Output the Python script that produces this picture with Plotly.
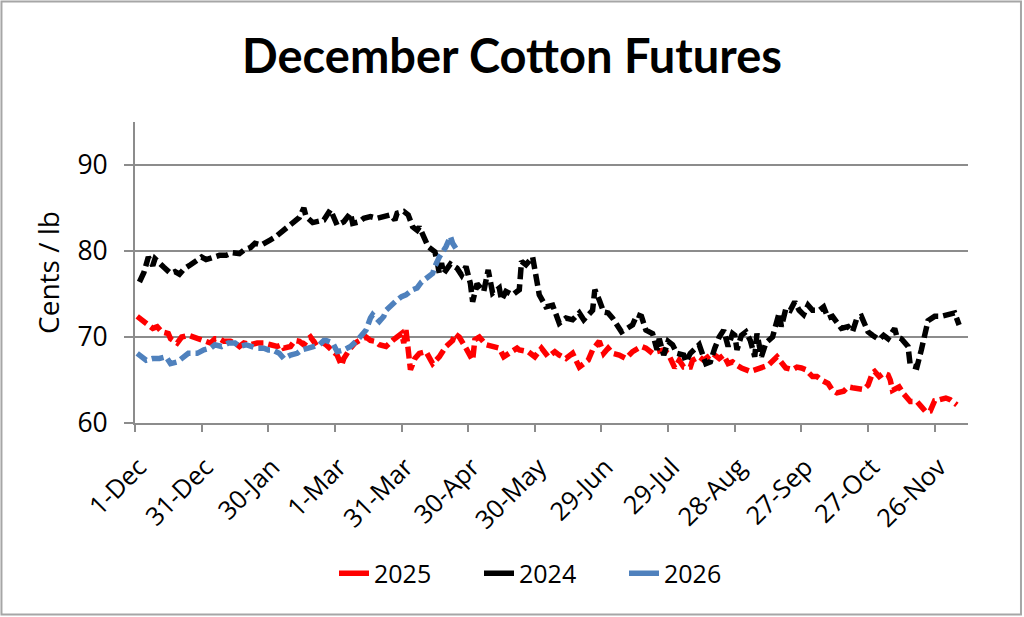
import plotly.graph_objects as go

# ---- data (days since 1-Dec, cents/lb) ----
TICK_DAYS = [0, 30, 60, 90, 120, 150, 180, 210, 240, 270, 300, 330, 360]
TICK_LABELS = ["1-Dec", "31-Dec", "30-Jan", "1-Mar", "31-Mar", "30-Apr", "30-May",
               "29-Jun", "29-Jul", "28-Aug", "27-Sep", "27-Oct", "26-Nov"]

DAYS_2025 = [1, 3, 5, 6, 8, 10, 12, 15, 16, 19, 21, 24, 26, 29, 31, 34, 36, 38, 40, 43,
             45, 47, 49, 52, 55, 58, 61, 64, 66, 67, 70, 72, 74, 76, 78, 79, 81, 83, 86, 89,
             91, 93, 94, 97, 99, 101, 104, 106, 108, 110, 113, 116, 118, 120, 121, 122, 124, 126, 128, 131,
             134, 137, 140, 143, 144, 146, 149, 152, 153, 155, 158, 161, 164, 166, 169, 172, 173, 177, 180, 183,
             186, 189, 191, 194, 197, 200, 204, 206, 209, 211, 213, 215, 218, 221, 224, 228, 230, 233, 235, 238,
             240, 243, 245, 247, 250, 251, 254, 256, 258, 260, 263, 265, 267, 269, 271, 273, 277, 279, 282, 285,
             289, 291, 293, 296, 298, 300, 302, 305, 307, 309, 312, 314, 316, 319, 321, 323, 326, 328, 330, 332,
             333, 335, 337, 339, 340, 341, 344, 346, 349, 352, 354, 356, 358, 360, 362, 365, 367, 370]
VALS_2025 = [72.4, 72.0, 71.6, 71.4, 71.0, 71.2, 70.6, 70.4, 69.8, 69.3, 70.0, 70.2, 70.0, 69.8, 69.6, 69.3, 69.8, 69.8, 69.5, 69.5,
             69.3, 68.9, 69.3, 69.1, 69.3, 69.3, 69.1, 68.9, 69.1, 68.7, 68.9, 69.6, 69.5, 69.1, 69.8, 70.0, 69.3, 69.6, 69.1, 68.5,
             67.9, 66.7, 67.5, 68.7, 69.3, 69.6, 70.0, 69.6, 69.5, 69.1, 68.9, 69.6, 70.0, 70.4, 69.3, 70.8, 66.2, 67.5, 68.1, 68.3,
             66.9, 67.7, 68.9, 69.6, 70.4, 70.0, 68.7, 67.3, 69.7, 70.0, 69.1, 68.9, 68.7, 67.7, 68.3, 68.7, 68.5, 68.3, 67.7, 68.7,
             67.7, 68.3, 67.9, 67.5, 68.1, 66.5, 67.3, 68.5, 69.5, 68.1, 68.7, 68.1, 67.9, 67.5, 68.3, 68.9, 68.7, 68.1, 68.3, 68.5,
             68.1, 66.4, 67.3, 66.5, 66.5, 67.3, 67.7, 67.3, 67.7, 68.1, 67.5, 67.9, 66.9, 67.1, 66.7, 66.4, 66.0, 66.2, 66.5, 66.7,
             67.7, 67.1, 66.4, 66.2, 66.5, 66.4, 66.2, 65.4, 65.4, 65.0, 64.6, 63.8, 63.5, 63.7, 64.2, 64.1, 64.0, 63.9, 64.4, 65.8,
             66.0, 65.4, 65.8, 65.6, 65.0, 63.8, 64.2, 63.4, 62.5, 62.5, 61.9, 61.3, 61.4, 62.6, 62.7, 62.9, 62.7, 62.1]

DAYS_2024 = [2, 4, 6, 7, 8, 9, 11, 13, 16, 18, 20, 22, 25, 28, 30, 32, 35, 38, 41, 44,
             47, 49, 52, 54, 57, 59, 61, 63, 65, 68, 71, 73, 74, 76, 77, 80, 82, 85, 88, 90,
             91, 94, 97, 98, 101, 103, 106, 109, 112, 115, 117, 118, 121, 123, 125, 127, 128, 130, 132, 134,
             135, 136, 137, 138, 139, 142, 145, 147, 149, 151, 152, 154, 157, 159, 161, 164, 165, 167, 170, 173,
             174, 176, 179, 182, 185, 188, 191, 194, 197, 200, 202, 206, 207, 209, 211, 213, 215, 219, 221, 224,
             226, 228, 230, 233, 235, 236, 238, 240, 242, 244, 247, 248, 250, 252, 254, 257, 259, 261, 263, 265,
             267, 269, 270, 271, 273, 275, 277, 279, 280, 282, 284, 287, 290, 291, 293, 295, 297, 299, 301, 303,
             305, 308, 310, 312, 314, 318, 321, 323, 325, 327, 330, 332, 335, 337, 339, 342, 343, 345, 348, 349,
             352, 354, 356, 357, 360, 363, 366, 369, 371]
VALS_2024 = [76.4, 77.5, 79.3, 78.9, 78.3, 79.1, 78.7, 78.1, 77.4, 77.6, 77.3, 77.9, 78.4, 79.0, 79.3, 79.0, 79.3, 79.5, 79.5, 79.8,
             79.7, 80.1, 80.4, 80.9, 80.7, 81.1, 81.3, 81.6, 82.0, 82.6, 83.2, 83.6, 83.9, 85.0, 84.0, 83.3, 83.4, 83.6, 84.8, 83.8,
             83.0, 83.4, 84.4, 83.2, 83.4, 83.8, 84.0, 83.8, 84.0, 84.2, 83.6, 84.4, 84.6, 84.2, 82.8, 82.4, 82.8, 81.6, 80.5, 80.1,
             79.9, 78.8, 77.4, 78.6, 77.4, 78.5, 78.0, 77.2, 78.2, 76.2, 74.1, 76.2, 75.3, 77.8, 75.1, 75.7, 74.3, 75.3, 74.9, 75.5,
             78.8, 78.4, 79.3, 74.9, 73.5, 73.7, 71.6, 72.2, 72.0, 72.8, 72.0, 73.1, 75.5, 74.3, 72.9, 72.8, 72.2, 70.6, 71.0, 71.4,
             72.6, 72.4, 70.8, 70.4, 68.5, 69.8, 67.9, 69.5, 69.1, 68.1, 67.9, 67.1, 68.1, 68.5, 69.1, 66.9, 67.1, 68.7, 70.0, 70.8,
             68.9, 70.4, 70.2, 68.5, 70.2, 70.6, 69.6, 67.7, 70.4, 67.7, 69.3, 70.0, 72.8, 71.2, 73.3, 73.1, 74.1, 73.1, 72.6, 73.7,
             73.1, 73.1, 73.5, 72.2, 72.4, 71.0, 71.2, 70.6, 72.2, 72.4, 70.6, 70.2, 69.7, 70.2, 69.8, 71.0, 70.0, 69.8, 68.9, 66.7,
             66.5, 68.5, 70.8, 71.9, 72.4, 72.4, 72.6, 72.8, 71.4]

DAYS_2026 = [1, 3, 5, 8, 11, 14, 16, 19, 22, 24, 28, 31, 34, 36, 39, 42, 45, 47, 50, 53,
             55, 58, 60, 62, 65, 67, 70, 73, 75, 78, 80, 83, 85, 86, 89, 91, 94, 97, 100, 102,
             104, 106, 107, 110, 112, 113, 116, 118, 120, 122, 125, 127, 129, 131, 134, 135, 137, 140, 142, 143,
             145]
VALS_2026 = [68.1, 67.7, 67.3, 67.5, 67.5, 67.7, 66.9, 67.1, 67.7, 68.1, 68.1, 68.5, 68.7, 69.1, 68.9, 69.3, 69.3, 68.9, 69.1, 68.9,
             68.7, 68.7, 68.5, 68.5, 68.1, 67.5, 67.9, 68.1, 68.5, 68.7, 68.9, 69.1, 69.6, 69.6, 69.3, 68.3, 68.5, 68.9, 69.6, 70.2,
             70.8, 72.2, 72.6, 71.8, 72.4, 73.1, 73.9, 74.3, 74.7, 74.9, 75.5, 75.7, 76.4, 76.8, 77.4, 78.2, 79.3, 80.5, 81.7, 80.9,
             80.1]

SERIES = [("2025", DAYS_2025, VALS_2025, "#FF0000"),
          ("2024", DAYS_2024, VALS_2024, "#000000"),
          ("2026", DAYS_2026, VALS_2026, "#4F81BD")]

FONT = "Open Sans"
TITLE_FONT = "Lato"
DASH = "12px,5px"

fig = go.Figure()
for name, xs, ys, color in SERIES:
    fig.add_trace(go.Scatter(x=xs, y=ys, mode="lines", name=name, showlegend=False,
                             legendgroup=name,
                             line=dict(color=color, width=5.5, dash=DASH)))
# legend entries drawn with solid lines, as in the reference
for name, xs, ys, color in SERIES:
    fig.add_trace(go.Scatter(x=[None], y=[None], mode="lines", name=name, legendgroup=name,
                             line=dict(color=color, width=5.5)))

fig.update_layout(
    width=1024, height=617,
    margin=dict(l=135, r=56, t=122, b=194),
    paper_bgcolor="white", plot_bgcolor="white",
    font=dict(family=FONT, size=25, color="#000000"),
    title=dict(text="<b>December Cotton Futures</b>", x=0.5, xanchor="center",
               y=1 - 57 / 617, yanchor="middle", font=dict(size=47, family=TITLE_FONT)),
    showlegend=True,
    legend=dict(orientation="h", x=0.5, xanchor="center", y=-0.5, yanchor="middle",
                font=dict(size=25), entrywidth=100, traceorder="normal"),
    shapes=[dict(type="rect", xref="paper", yref="paper",
                 x0=-0.1603, x1=1.0636, y0=-0.6362, y1=1.4003,
                 line=dict(color="#A6A6A6", width=2), layer="below")],
)
fig.update_xaxes(range=[0, 375], tickmode="array", tickvals=TICK_DAYS, ticktext=TICK_LABELS,
                 tickangle=-45, ticks="outside", ticklen=7, tickcolor="#8C8C8C", tickwidth=2,
                 showline=True, linecolor="#8C8C8C", linewidth=2, showgrid=False, zeroline=False,
                 tickfont=dict(size=25.5), ticklabelstandoff=10, ticklabelshift=4)
fig.update_yaxes(range=[60, 95], tickvals=[60, 70, 80, 90], ticks="outside", ticklen=9,
                 tickcolor="#8C8C8C", tickwidth=2, showline=True, linecolor="#8C8C8C", linewidth=2,
                 showgrid=True, gridcolor="#8C8C8C", gridwidth=2, zeroline=False,
                 tickfont=dict(size=26.5), ticklabelstandoff=11,
                 title=dict(text="Cents / lb", font=dict(size=28), standoff=10))

fig.write_html("out.html", config={"displayModeBar": False},
               post_script="document.body.style.margin='0px';")
